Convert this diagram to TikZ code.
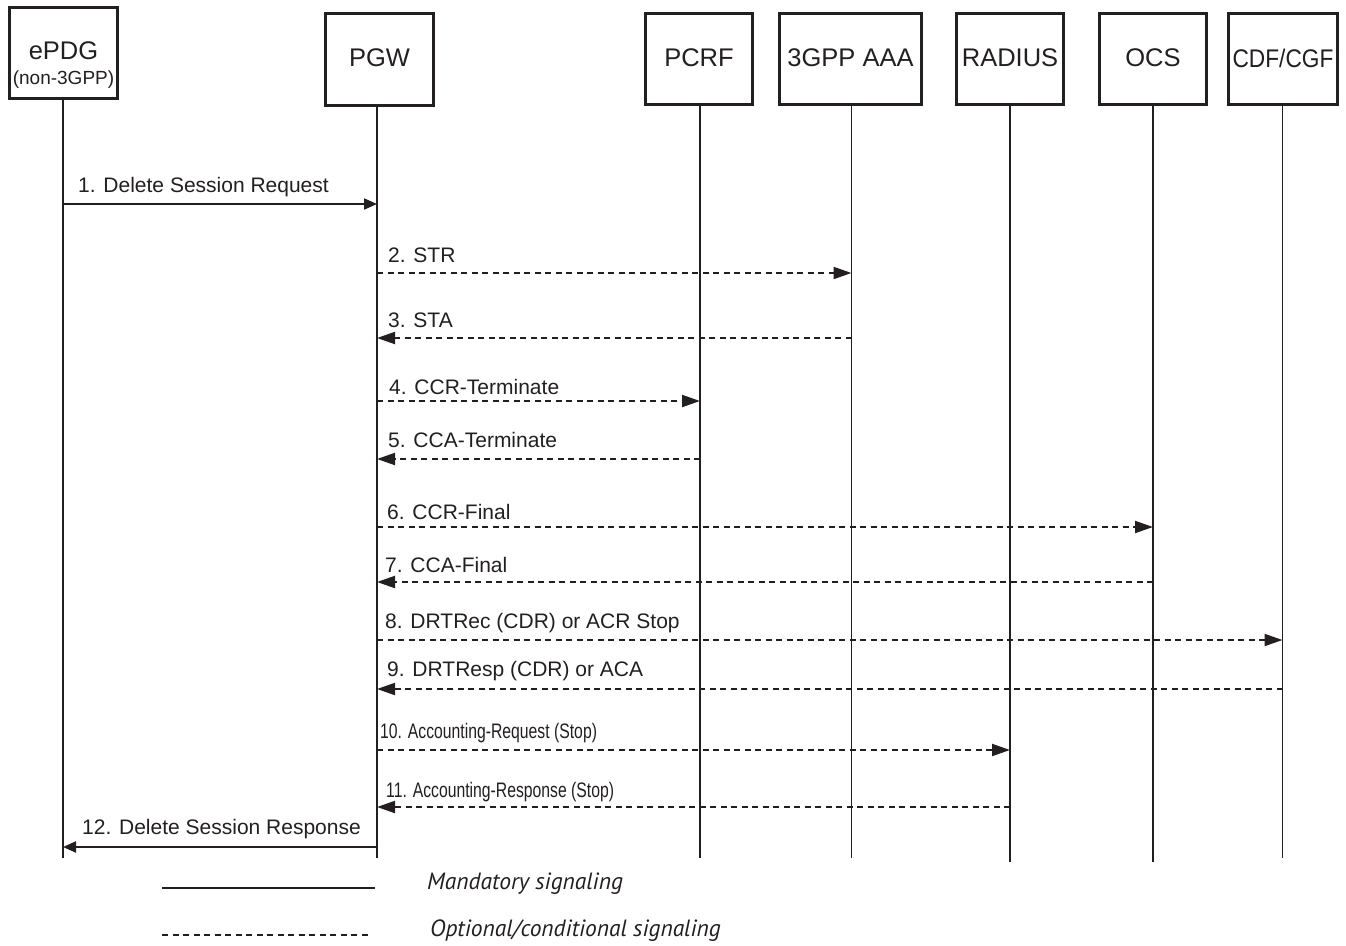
\documentclass[tikz,border=0pt]{standalone}
\usepackage{fontspec}
\usepackage{graphicx}
\setmainfont{Liberation Sans}
\newfontfamily\legendfont{PT Sans}
\usetikzlibrary{arrows.meta}
\definecolor{ink}{RGB}{35,31,32}
\begin{document}
\begin{tikzpicture}[x=1pt,y=-1pt,
  entity/.style={draw=ink, line width=3pt, inner sep=0pt, minimum height=91pt},
  entityname/.style={text=ink, inner sep=0pt, font=\fontsize{25.5}{28}\selectfont},
  lifeline/.style={draw=ink, line width=1.2pt},
  solidsig/.style={draw=ink, line width=2pt},
  dashsig/.style={draw=ink, line width=2pt, dash pattern=on 6pt off 4.5pt},
  mandatory/.style={solidsig, -{Triangle[length=13pt,width=11pt]}},
  optional/.style={dashsig, -{Triangle[length=18pt,width=12pt]}},
  msglabel/.style={anchor=base west, inner sep=0pt, text=ink, font=\fontsize{21}{24}\selectfont},
  legendtext/.style={anchor=base west, inner sep=0pt, text=ink, font=\legendfont\itshape\fontsize{23.5}{26}\selectfont}]

\useasboundingbox (0,0) rectangle (1346,945);

% ---- network entities ----
\node[entity, minimum width=108pt] (epdg) at (63.5,53) {};
\node[entityname, anchor=base] (epdgname) at (63.5,59) {ePDG};
\node[entityname, anchor=base, font=\fontsize{19}{21}\selectfont] (epdgsub) at (63.5,84) {(non-3GPP)};
\node[entity, minimum width=108pt, minimum height=92pt] (pgw) at (379.5,59.5) {};
\node[entityname] (pgwname) at (379.5,58) {PGW};
\node[entity, minimum width=107pt] (pcrf) at (699,59) {};
\node[entityname] (pcrfname) at (699,58) {PCRF};
\node[entity, minimum width=142pt] (aaa) at (850.5,59) {};
\node[entityname] (aaaname) at (850.5,58) {3GPP AAA};
\node[entity, minimum width=107pt] (radius) at (1010,59) {};
\node[entityname] (radiusname) at (1010,58) {RADIUS};
\node[entity, minimum width=107pt] (ocs) at (1153,59) {};
\node[entityname] (ocsname) at (1153,58) {OCS};
\node[entity, minimum width=109pt] (cdf) at (1283,59) {};
\node[entityname] (cdfname) at (1283,58) {\scalebox{0.89}[1]{CDF/CGF}};

% ---- lifelines ----
\coordinate (xE) at (63,0);
\coordinate (xP) at (377,0);
\coordinate (xR) at (700,0);
\coordinate (xA) at (851.5,0);
\coordinate (xD) at (1010,0);
\coordinate (xO) at (1153,0);
\coordinate (xC) at (1282.5,0);

\draw[lifeline] (epdg.south -| xE) -- (xE |- 0,858);
\draw[lifeline] (pgw.south -| xP) -- (xP |- 0,858);
\draw[lifeline] (pcrf.south -| xR) -- (xR |- 0,858);
\draw[lifeline] (aaa.south -| xA) -- (xA |- 0,858);
\draw[lifeline] (radius.south -| xD) -- (xD |- 0,862);
\draw[lifeline] (ocs.south -| xO) -- (xO |- 0,862);
\draw[lifeline] (cdf.south -| xC) -- (xC |- 0,858);

% ---- messages ----
\draw[mandatory] (xE |- 0,204) -- (xP |- 0,204);
\node[msglabel] (m1) at (78,192) {1. Delete Session Request};

\draw[optional] (xP |- 0,273) -- (xA |- 0,273);
\node[msglabel] (m2) at (388,262) {2. STR};

\draw[optional] (xA |- 0,338) -- (xP |- 0,338);
\node[msglabel] (m3) at (388,327) {3. STA};

\draw[optional] (xP |- 0,401) -- (xR |- 0,401);
\node[msglabel] (m4) at (389,394) {4. CCR-Terminate};

\draw[optional] (xR |- 0,459) -- (xP |- 0,459);
\node[msglabel] (m5) at (388,447) {5. CCA-Terminate};

\draw[optional] (xP |- 0,527) -- (xO |- 0,527);
\node[msglabel] (m6) at (387,519) {6. CCR-Final};

\draw[optional] (xO |- 0,582) -- (xP |- 0,582);
\node[msglabel] (m7) at (385,572) {7. CCA-Final};

\draw[optional] (xP |- 0,640) -- (xC |- 0,640);
\node[msglabel] (m8) at (385,628) {8. DRTRec (CDR) or ACR Stop};

\draw[optional] (xC |- 0,689) -- (xP |- 0,689);
\node[msglabel] (m9) at (387,676) {9. DRTResp (CDR) or ACA};

\draw[optional] (xP |- 0,750) -- (xD |- 0,750);
\node[msglabel] (m10) at (380,738) {\scalebox{0.75}[1]{10. Accounting-Request (Stop)}};

\draw[optional] (xD |- 0,807) -- (xP |- 0,807);
\node[msglabel] (m11) at (386,797) {\scalebox{0.75}[1]{11. Accounting-Response (Stop)}};

\draw[mandatory] (xP |- 0,847) -- (xE |- 0,847);
\node[msglabel] (m12) at (82,834) {12. Delete Session Response};

% ---- legend ----
\coordinate (keyAa) at (162,888);
\coordinate (keyAb) at (375,888);
\coordinate (keyBa) at (162,935);
\coordinate (keyBb) at (370,935);
\draw[solidsig] (keyAa) -- (keyAb);
\draw[dashsig] (keyBa) -- (keyBb);
\node[legendtext] (keyAtext) at (427,889) {Mandatory signaling};
\node[legendtext] (keyBtext) at (430,936) {Optional/conditional signaling};
\end{tikzpicture}
\end{document}
